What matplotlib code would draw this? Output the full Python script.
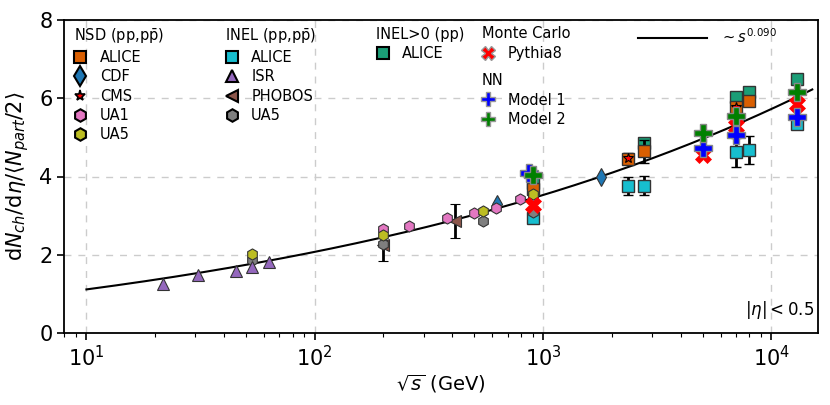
import numpy as np
import matplotlib
matplotlib.use("Agg")
import matplotlib.pyplot as plt
from matplotlib.lines import Line2D

# ---------------- data ----------------
# NSD
alice_nsd_x = [900, 2360, 2760, 7000, 8000]
alice_nsd_y = [3.67, 4.45, 4.64, 5.78, 5.93]
alice_nsd_e = [0.05, 0.14, 0.29, 0.0, 0.0]
cdf_x = [630, 1800]
cdf_y = [3.30, 3.98]
cms_x = [900, 2360, 7000]
cms_y = [3.50, 4.47, 5.78]
ua1_x = [200, 260, 380, 500, 620, 790, 900]
ua1_y = [2.65, 2.74, 2.95, 3.06, 3.19, 3.43, 3.49]
ua5_nsd_x = [53, 200, 546, 900]
ua5_nsd_y = [2.02, 2.51, 3.13, 3.55]
# INEL
alice_inel_x = [900, 2360, 2760, 7000, 8000, 13000]
alice_inel_y = [2.93, 3.77, 3.77, 4.62, 4.68, 5.35]
alice_inel_e = [0.05, 0.23, 0.24, 0.37, 0.35, 0.14]
isr_x = [21.7, 30.8, 45.2, 53.2, 62.8]
isr_y = [1.25, 1.50, 1.60, 1.70, 1.82]
phobos_x = [200, 410]
phobos_y = [2.25, 2.87]
phobos_e = [0.40, 0.43]
ua5_inel_x = [53, 200, 546, 900]
ua5_inel_y = [1.87, 2.27, 2.87, 3.10]
# INEL>0
alice_inel0_x = [900, 2760, 7000, 8000, 13000]
alice_inel0_y = [3.83, 4.85, 6.02, 6.16, 6.50]
alice_inel0_e = [0.0, 0.0, 0.0, 0.0, 0.12]
# Monte Carlo
pythia_x = [900, 5020, 7000, 13000]
pythia_y = [3.27, 4.55, 5.29, 5.84]
# NN
nn1_x = [870, 5020, 7000, 13000]
nn1_y = [4.10, 4.72, 5.06, 5.52]
nn2_x = [900, 5020, 7000, 13000]
nn2_y = [4.04, 5.10, 5.54, 6.16]
# fit  a + b * s^0.090
fit_a, fit_b, fit_p = -0.746, 1.2325, 0.090
fit_range = (10, 15100)

# ---------------- colours ----------------
c_orange = '#d95f02'
c_teal = '#1b9e77'
c_cdf = '#1f77b4'
c_pink = '#e377c2'
c_olive = '#bcbd22'
c_cyan = '#17becf'
c_purple = '#9467bd'
c_brown = '#8c564b'
c_gray = '#7f7f7f'

fig = plt.figure(figsize=(8.3, 4.05), dpi=100)
ax = fig.add_axes([64.3/830, 1-333.3/405, (818-64.3)/830, (333.3-19.7)/405])

ax.set_xscale('log')
ax.set_xlim(8, 16000)
ax.set_ylim(0, 8)
ax.set_yticks([0, 2, 4, 6, 8])
ax.grid(True, which='major', ls=(0, (5, 5)), color='#cccccc', lw=1)
ax.set_axisbelow(True)

# fit line
xs = np.logspace(np.log10(fit_range[0]), np.log10(fit_range[1]), 300)
ax.plot(xs, fit_a + fit_b * (xs**2)**fit_p, color='black', lw=1.5, zorder=2)

ekw = dict(ecolor='black', elinewidth=2, capsize=3.5, capthick=1.5, ls='none')
ecm = '#333333'

ax.errorbar(alice_inel0_x, alice_inel0_y, yerr=alice_inel0_e, marker='s', ms=8,
            mfc=c_teal, mec=ecm, mew=1, zorder=3, **ekw)
ax.errorbar(alice_nsd_x, alice_nsd_y, yerr=alice_nsd_e, marker='s', ms=8,
            mfc=c_orange, mec=ecm, mew=1, zorder=3.1, **ekw)
ax.plot(cms_x, cms_y, ls='none', marker='*', ms=7, mfc='red', mec='black', mew=0.8, zorder=3.2)
ax.errorbar(alice_inel_x, alice_inel_y, yerr=alice_inel_e, marker='s', ms=8,
            mfc=c_cyan, mec=ecm, mew=1, zorder=3.3, **ekw)
ax.errorbar(phobos_x, phobos_y, yerr=phobos_e, marker='<', ms=8,
            mfc=c_brown, mec=ecm, mew=0.8, zorder=3.4, **ekw)
ax.plot(ua5_inel_x, ua5_inel_y, ls='none', marker='h', ms=8, mfc=c_gray, mec=ecm, mew=0.8, zorder=3.5)
ax.plot(isr_x, isr_y, ls='none', marker='^', ms=8.5, mfc=c_purple, mec=ecm, mew=0.8, zorder=3.6)
ax.plot(cdf_x, cdf_y, ls='none', marker='d', ms=9, mfc=c_cdf, mec=ecm, mew=0.8, zorder=3.65)
ax.plot(ua1_x, ua1_y, ls='none', marker='h', ms=8, mfc=c_pink, mec=ecm, mew=0.8, zorder=3.7)
ax.plot(ua5_nsd_x, ua5_nsd_y, ls='none', marker='h', ms=8, mfc=c_olive, mec=ecm, mew=0.8, zorder=3.8)
ax.plot(pythia_x, pythia_y, ls='none', marker='X', ms=12, mfc='red', mec='red', mew=0.5, zorder=4)
ax.plot(nn1_x, nn1_y, ls='none', marker='P', ms=13, mfc='blue', mec='#888888', mew=1, zorder=4.1)
ax.plot(nn2_x, nn2_y, ls='none', marker='P', ms=13, mfc='green', mec='#888888', mew=1, zorder=4.2)

# ---------------- legends ----------------
fs = 10.5
lkw = dict(frameon=False, loc='upper left', borderpad=0, borderaxespad=0,
           handlelength=0.9, handletextpad=0.9, labelspacing=0.3, fontsize=fs,
           title_fontsize=fs, alignment='left')

def H(marker, fc, ec='black', ms=8, mew=1.5):
    return Line2D([], [], ls='none', marker=marker, ms=ms, mfc=fc, mec=ec, mew=mew)

def fx(px):
    return (px - 64.3) / (818 - 64.3)

def fy(py):
    return (333.3 - py) / (333.3 - 19.7)

leg1 = ax.legend([H('s', c_orange), H('d', c_cdf, ms=10), H('*', 'red', ms=8, mew=1.2),
                  H('h', c_pink, ms=9), H('h', c_olive, ms=9)],
                 ['ALICE', 'CDF', 'CMS', 'UA1', 'UA5'],
                 title=r'NSD (pp,p$\bar{\mathrm{p}}$)',
                 bbox_to_anchor=(fx(73.5), fy(26.5)), **lkw)
ax.add_artist(leg1)
leg2 = ax.legend([H('s', c_cyan), H('^', c_purple, ms=9), H('<', c_brown, ms=9),
                  H('h', c_gray, ms=9)],
                 ['ALICE', 'ISR', 'PHOBOS', 'UA5'],
                 title=r'INEL (pp,p$\bar{\mathrm{p}}$)',
                 bbox_to_anchor=(fx(225), fy(26.5)), **lkw)
ax.add_artist(leg2)
leg3 = ax.legend([H('s', c_teal)], ['ALICE'], title='INEL>0 (pp)',
                 bbox_to_anchor=(fx(376), fy(26.5)), **lkw)
ax.add_artist(leg3)
leg4 = ax.legend([H('X', 'red', ec='#999999', ms=10, mew=1)], ['Pythia8'], title='Monte Carlo',
                 bbox_to_anchor=(fx(481.7), fy(26.5)), **lkw)
ax.add_artist(leg4)
leg5 = ax.legend([H('P', 'blue', ec='#999999', ms=10, mew=1), H('P', 'green', ec='#999999', ms=10, mew=1)],
                 ['Model 1', 'Model 2'], title='NN',
                 bbox_to_anchor=(fx(481.7), fy(73.2)), **lkw)
ax.add_artist(leg5)
leg6 = ax.legend([Line2D([], [], color='black', lw=1.5)], [r'$\sim s^{0.090}$'],
                 frameon=False, loc='upper left', borderpad=0, borderaxespad=0,
                 handlelength=4.7, handletextpad=0.9, fontsize=fs,
                 bbox_to_anchor=(fx(638), fy(27.2)))

ax.text(0.995, fy(310), r'$|\eta| < 0.5$', transform=ax.transAxes, ha='right', va='center', fontsize=12)

ax.tick_params(axis='both', which='major', labelsize=15, length=5, width=1.2)
ax.tick_params(axis='x', which='minor', length=3, width=0.8)
for s in ax.spines.values():
    s.set_linewidth(1.3)
ax.set_xlabel(r'$\sqrt{s}$ (GeV)', fontsize=14, labelpad=2)
ax.set_ylabel(r'd$N_{ch}$/d$\eta$/$\langle N_{part}/2\rangle$', fontsize=15, labelpad=6)

fig.savefig('out.png', dpi=100)
